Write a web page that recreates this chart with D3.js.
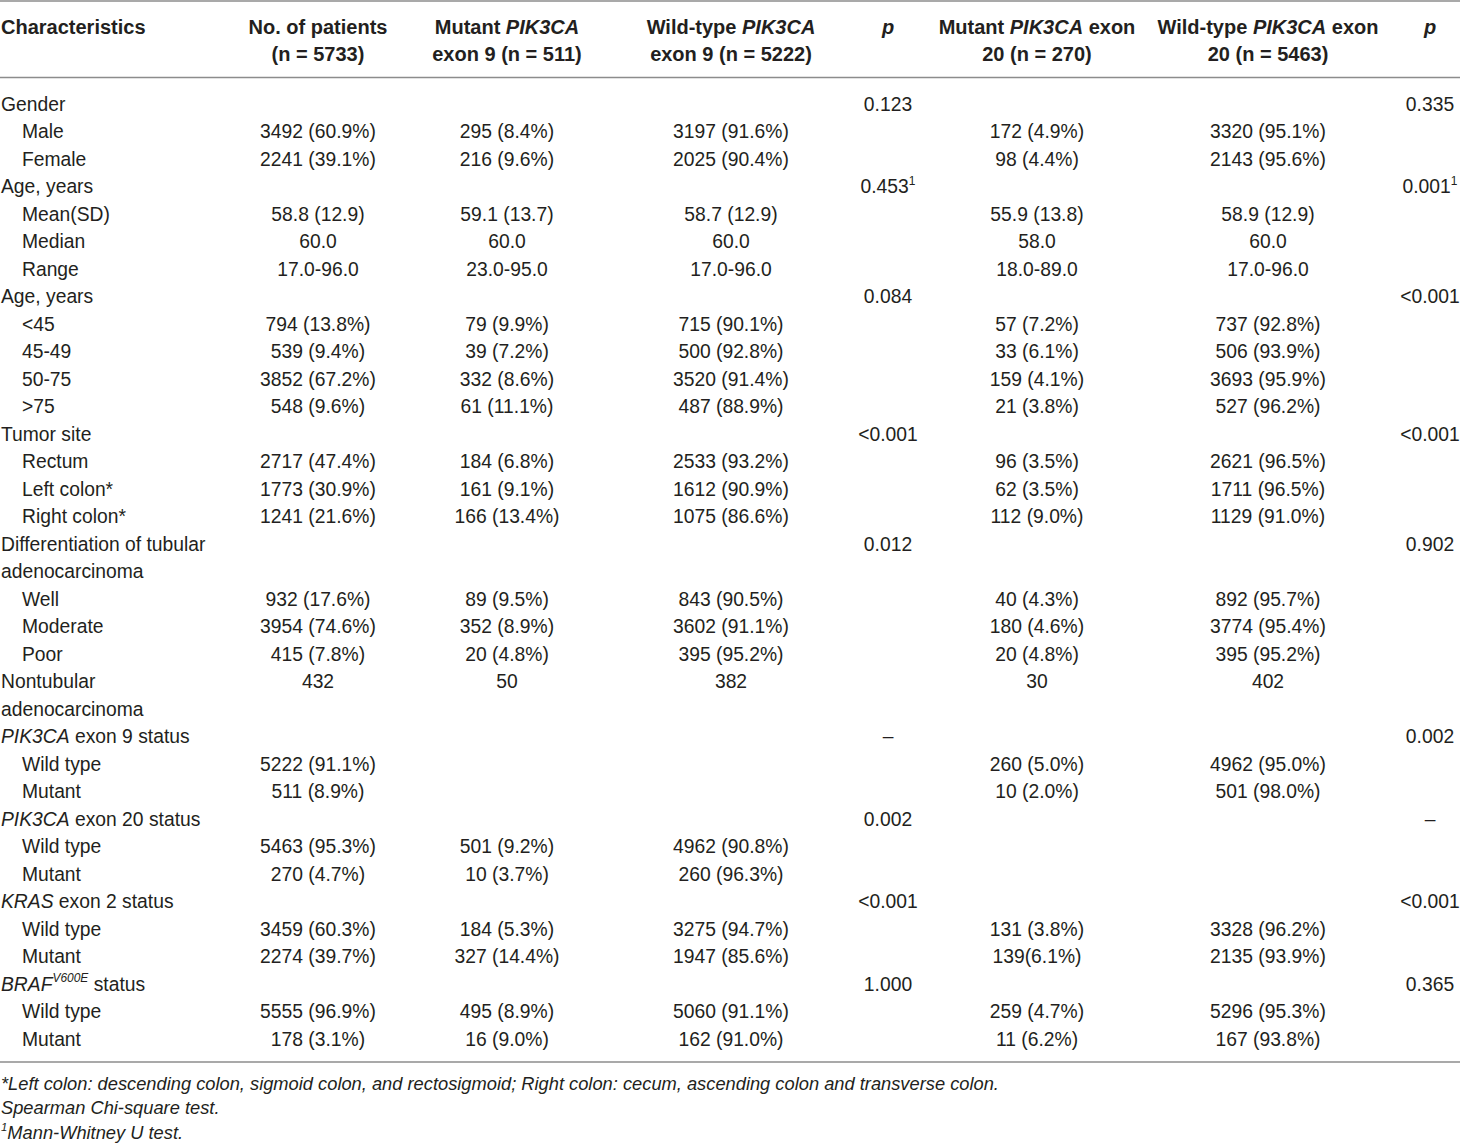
<!DOCTYPE html>
<html><head><meta charset="utf-8">
<script src="https://cdn.jsdelivr.net/npm/d3@7"></script>
<style>
html,body{margin:0;padding:0;background:#fff;}
svg text{font-family:"Liberation Sans",Arial,sans-serif;fill:#231f20;}
</style></head>
<body><svg id="chart" width="1460" height="1144"></svg>
<script>
const headerLine1 = ["<b>Characteristics</b>","<b>No. of patients</b>","<b>Mutant <i>PIK3CA</i></b>","<b>Wild-type <i>PIK3CA</i></b>","<b><i>p</i></b>","<b>Mutant <i>PIK3CA</i> exon</b>","<b>Wild-type <i>PIK3CA</i> exon</b>","<b><i>p</i></b>"];
const headerLine2 = ["","<b>(n = 5733)</b>","<b>exon 9 (n = 511)</b>","<b>exon 9 (n = 5222)</b>","","<b>20 (n = 270)</b>","<b>20 (n = 5463)</b>",""];
const columnKeys = ["label","patients","mut9","wt9","p9","mut20","wt20","p20"];

const rowLabels = ["Gender","Male","Female","Age, years","Mean(SD)","Median","Range","Age, years","<45","45-49","50-75",">75","Tumor site","Rectum","Left colon*","Right colon*","Differentiation of tubular","adenocarcinoma","Well","Moderate","Poor","Nontubular","adenocarcinoma","<i>PIK3CA</i> exon 9 status","Wild type","Mutant","<i>PIK3CA</i> exon 20 status","Wild type","Mutant","<i>KRAS</i> exon 2 status","Wild type","Mutant","<i>BRAF</i><sup><i>V600E</i></sup> status","Wild type","Mutant"];
const rowIndent = [0,1,1,0,1,1,1,0,1,1,1,1,0,1,1,1,0,0,1,1,1,0,0,0,1,1,0,1,1,0,1,1,0,1,1];

const patients = ["","3492 (60.9%)","2241 (39.1%)","","58.8 (12.9)","60.0","17.0-96.0","","794 (13.8%)","539 (9.4%)","3852 (67.2%)","548 (9.6%)","","2717 (47.4%)","1773 (30.9%)","1241 (21.6%)","","","932 (17.6%)","3954 (74.6%)","415 (7.8%)","432","","","5222 (91.1%)","511 (8.9%)","","5463 (95.3%)","270 (4.7%)","","3459 (60.3%)","2274 (39.7%)","","5555 (96.9%)","178 (3.1%)"];
const mut9 = ["","295 (8.4%)","216 (9.6%)","","59.1 (13.7)","60.0","23.0-95.0","","79 (9.9%)","39 (7.2%)","332 (8.6%)","61 (11.1%)","","184 (6.8%)","161 (9.1%)","166 (13.4%)","","","89 (9.5%)","352 (8.9%)","20 (4.8%)","50","","","","","","501 (9.2%)","10 (3.7%)","","184 (5.3%)","327 (14.4%)","","495 (8.9%)","16 (9.0%)"];
const wt9 = ["","3197 (91.6%)","2025 (90.4%)","","58.7 (12.9)","60.0","17.0-96.0","","715 (90.1%)","500 (92.8%)","3520 (91.4%)","487 (88.9%)","","2533 (93.2%)","1612 (90.9%)","1075 (86.6%)","","","843 (90.5%)","3602 (91.1%)","395 (95.2%)","382","","","","","","4962 (90.8%)","260 (96.3%)","","3275 (94.7%)","1947 (85.6%)","","5060 (91.1%)","162 (91.0%)"];
const p9 = ["0.123","","","0.453<sup>1</sup>","","","","0.084","","","","","<0.001","","","","0.012","","","","","","","–","","","0.002","","","<0.001","","","1.000","",""];
const mut20 = ["","172 (4.9%)","98 (4.4%)","","55.9 (13.8)","58.0","18.0-89.0","","57 (7.2%)","33 (6.1%)","159 (4.1%)","21 (3.8%)","","96 (3.5%)","62 (3.5%)","112 (9.0%)","","","40 (4.3%)","180 (4.6%)","20 (4.8%)","30","","","260 (5.0%)","10 (2.0%)","","","","","131 (3.8%)","139(6.1%)","","259 (4.7%)","11 (6.2%)"];
const wt20 = ["","3320 (95.1%)","2143 (95.6%)","","58.9 (12.9)","60.0","17.0-96.0","","737 (92.8%)","506 (93.9%)","3693 (95.9%)","527 (96.2%)","","2621 (96.5%)","1711 (96.5%)","1129 (91.0%)","","","892 (95.7%)","3774 (95.4%)","395 (95.2%)","402","","","4962 (95.0%)","501 (98.0%)","","","","","3328 (96.2%)","2135 (93.9%)","","5296 (95.3%)","167 (93.8%)"];
const p20 = ["0.335","","","0.001<sup>1</sup>","","","","<0.001","","","","","<0.001","","","","0.902","","","","","","","0.002","","","–","","","<0.001","","","0.365","",""];
const footnotes = ["<i>*Left colon: descending colon, sigmoid colon, and rectosigmoid; Right colon: cecum, ascending colon and transverse colon.</i>","<i>Spearman Chi-square test.</i>","<sup><i>1</i></sup><i>Mann-Whitney U test.</i>"];

const columns = {patients, mut9, wt9, p9, mut20, wt20, p20};

const svg = d3.select("#chart");
const FS = 19.3;

const x = d3.scaleOrdinal().domain(columnKeys).range([1, 318, 507, 731, 888, 1037, 1268, 1430]);
const y = d3.scaleLinear().domain([0, rowLabels.length - 1]).range([110.5, 110.5 + 34 * 27.5]);
const yHead = d3.scaleLinear().domain([0, 1]).range([33.5, 60.5]);
const yFoot = d3.scaleLinear().domain([0, 2]).range([1089.5, 1139]);

function rich(sel, str, size) {
  const parts = str.split(/(<\/?i>|<\/?b>|<\/?sup>)/).filter(s => s !== "");
  let it = false, bd = false, sup = false, pendingDy = 0;
  parts.forEach(p => {
    if (p === "<i>") { it = true; return; }
    if (p === "</i>") { it = false; return; }
    if (p === "<b>") { bd = true; return; }
    if (p === "</b>") { bd = false; return; }
    if (p === "<sup>") { sup = true; pendingDy = -size * 0.42; return; }
    if (p === "</sup>") { sup = false; pendingDy = size * 0.42; return; }
    const t = sel.append("tspan").text(p)
      .attr("font-style", it ? "italic" : "normal")
      .attr("font-weight", bd ? "bold" : "normal")
      .attr("font-size", sup ? size * 0.62 : size);
    if (pendingDy) { t.attr("dy", pendingDy); pendingDy = 0; }
  });
}

// rules
const rules = [1, 77.5, 1062];
svg.selectAll("line.rule").data(rules).join("line")
  .attr("class", "rule")
  .attr("x1", 0).attr("x2", 1460)
  .attr("y1", d => d).attr("y2", d => d)
  .attr("stroke", "#8c8c8c").attr("stroke-width", 1.6);

// header
[headerLine1, headerLine2].forEach((line, li) => {
  line.forEach((h, ci) => {
    if (!h) return;
    const t = svg.append("text")
      .attr("x", x(columnKeys[ci]))
      .attr("y", yHead(li))
      .attr("text-anchor", ci === 0 ? "start" : "middle");
    rich(t, h, 20);
  });
});

// row labels
rowLabels.forEach((lab, i) => {
  const t = svg.append("text")
    .attr("x", x("label") + (rowIndent[i] ? 21 : 0))
    .attr("y", y(i));
  rich(t, lab, FS);
});

// cells
Object.keys(columns).forEach(key => {
  columns[key].forEach((v, i) => {
    if (!v) return;
    const t = svg.append("text")
      .attr("x", x(key))
      .attr("y", y(i))
      .attr("text-anchor", "middle");
    rich(t, v, FS);
  });
});

// footnotes
footnotes.forEach((f, i) => {
  const t = svg.append("text").attr("x", 1).attr("y", yFoot(i));
  rich(t, f, 18.3);
});
</script></body></html>
